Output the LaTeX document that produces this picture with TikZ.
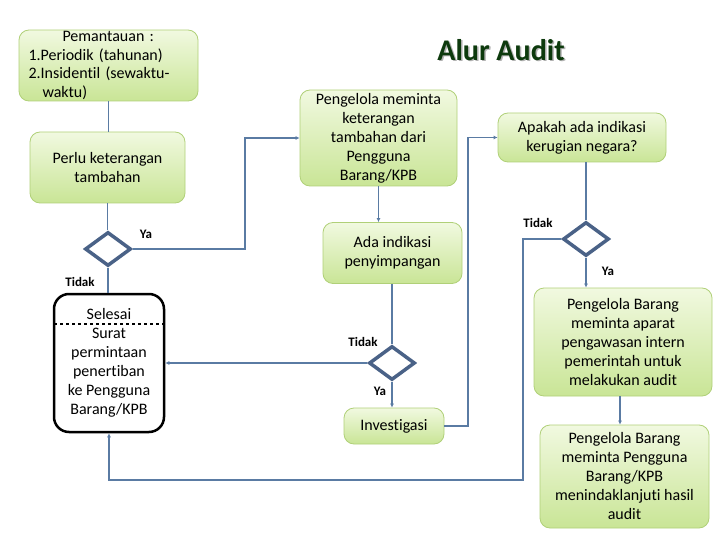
\documentclass[tikz,border=0pt]{standalone}
\usepackage{fontspec}
\setmainfont{Carlito}[RawFeature={-liga;-clig;-calt;-dlig}]
\usetikzlibrary{shapes.geometric,arrows.meta}
\definecolor{boxtop}{HTML}{F1F9E0}
\definecolor{boxbot}{HTML}{C9E596}
\definecolor{boxline}{HTML}{B0D078}
\definecolor{wire}{HTML}{5A7BA3}
\definecolor{decline}{HTML}{4A6287}
\definecolor{titlegreen}{HTML}{0D3A0D}

\begin{document}
\begin{tikzpicture}[x=1pt,y=-1pt,font=\fontsize{16}{19}\selectfont,
    box/.style={draw=boxline,line width=0.8pt,top color=boxtop,bottom color=boxbot,
      rounded corners=10pt,align=center,inner sep=0pt},
    dec/.style={diamond,draw=decline,line width=3.5pt,fill=white,
      minimum width=46pt,minimum height=34pt,inner sep=0pt},
    wire/.style={draw=wire,line width=1.3pt},
    arr/.style={wire,-{Latex[length=4pt,width=4pt]}},
    lbl/.style={font=\fontsize{13}{15}\selectfont\bfseries}]
  \useasboundingbox (0,0) rectangle (720,540);

  % title
  \node[text=black!30,font=\fontsize{30}{32}\selectfont\bfseries] (titleshade) at (502.5,51.5) {Alur Audit};
  \node[text=titlegreen,font=\fontsize{30}{32}\selectfont\bfseries] (title) at (501,50) {Alur Audit};

  % boxes
  \node[box,align=left,text width=160pt,minimum width=179pt,minimum height=71pt,
    font=\fontsize{16}{18.5}\selectfont] (mon) at (108.5,65.5)
    {\hspace*{34pt}Pemantauan :\\1.Periodik (tahunan)\\2.Insidentil (sewaktu-\\\hspace*{14pt}waktu)};
  \node[box,minimum width=155pt,minimum height=71pt] (perlu) at (107.5,167.5) {Perlu keterangan\\tambahan};
  \node[box,minimum width=157pt,minimum height=96pt] (peng) at (378.5,138)
    {Pengelola meminta\\keterangan\\tambahan dari\\Pengguna\\Barang/KPB};
  \node[box,minimum width=139pt,minimum height=61pt] (ada) at (392.5,253) {Ada indikasi\\penyimpangan};
  \node[box,minimum width=100pt,minimum height=36pt] (inv) at (394,426) {Investigasi};
  \node[box,minimum width=168pt,minimum height=49pt] (apa) at (582,137.5) {Apakah ada indikasi\\kerugian negara?};
  \node[box,minimum width=178pt,minimum height=108pt] (pb1) at (623,342)
    {Pengelola Barang\\meminta aparat\\pengawasan intern\\pemerintah untuk\\melakukan audit};
  \node[box,minimum width=169pt,minimum height=103pt] (pb2) at (624.5,476.5)
    {Pengelola Barang\\meminta Pengguna\\Barang/KPB\\menindaklanjuti hasil\\audit};
  \node[draw=black,line width=2.5pt,fill=white,rounded corners=15pt,align=center,inner sep=0pt,
    minimum width=110pt,minimum height=138pt] (sel) at (109,363)
    {Selesai\\Surat\\permintaan\\penertiban\\ke Pengguna\\Barang/KPB};
  \draw[dashed,line width=1.3pt] ([xshift=1.5pt]sel.west |- 0,324) -- ([xshift=-1.5pt]sel.east |- 0,324);

  % decisions
  \node[dec] (dec1) at (108,249) {};
  \node[dec] (dec2) at (392,363) {};
  \node[dec] (dec3) at (586,239) {};

  \foreach \n/\x/\y/\t in {ya1/146/234/Ya, no1/80/282/Tidak, no2/363/342/Tidak,
      ya2/380/391/Ya, no3/538/223/Tidak, ya3/608/271/Ya}
    \node[lbl] (\n) at (\x,\y) {\t};

  % connectors
  \coordinate (railA) at (245,0);
  \coordinate (railB) at (468,0);
  \coordinate (railC) at (523,480);
  \draw[wire] (mon.south) -- (mon.south |- perlu.north);
  \draw[wire] (perlu.south) -- (perlu.south |- dec1.north);
  \draw[arr] (dec1.east) -- (dec1.east -| railA) |- (peng.west);
  \draw[wire] (dec1.south) -- (dec1.south |- sel.north);
  \draw[arr] (dec2.west) -- (sel.east);
  \draw[arr] (peng.south) -- (peng.south |- ada.north);
  \draw[wire] (ada.south -| dec2) -- (dec2.north);
  \draw[arr] (dec2.south) -- (dec2.south |- inv.north);
  \draw[arr] (inv.east) -- (inv.east -| railB) |- (apa.west);
  \draw[wire] (dec3.north |- apa.south) -- (dec3.north);
  \draw[arr] (dec3.west) -- (dec3.west -| railC) -- (railC) -| (sel.south);
  \draw[arr] (dec3.south) -- (dec3.south |- pb1.north);
  \draw[arr] (pb1.south -| 620,0) -- (pb2.north -| 620,0);
\end{tikzpicture}
\end{document}
